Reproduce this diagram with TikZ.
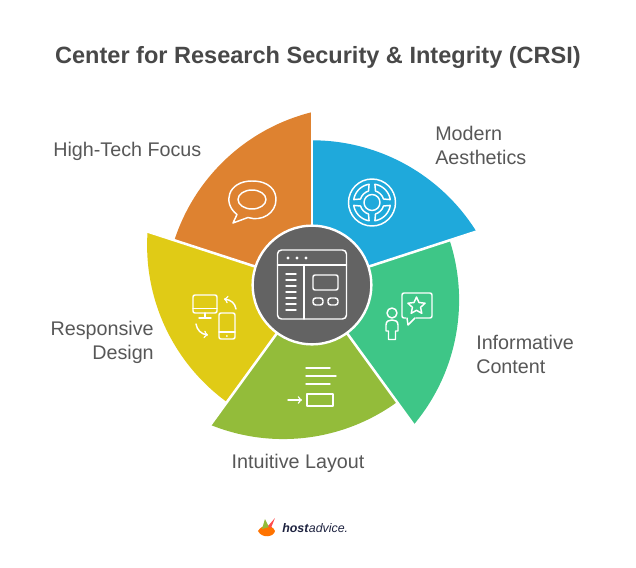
\documentclass[tikz,border=0pt]{standalone}
\usepackage{fontspec}
\usepackage{tikz}
\usetikzlibrary{arrows, positioning, shapes.geometric}
\setmainfont{Liberation Sans}
\definecolor{inkdark}{HTML}{484848}
\definecolor{inktext}{HTML}{575757}
\definecolor{hubgray}{HTML}{636363}
\definecolor{c0}{HTML}{1FA9DB}
\definecolor{c1}{HTML}{3EC687}
\definecolor{c2}{HTML}{93BC3A}
\definecolor{c3}{HTML}{E0CB16}
\definecolor{c4}{HTML}{DE8230}
\definecolor{logonavy}{HTML}{1E2340}
\tikzstyle{hub}=[circle, draw=white, fill=hubgray, line width=1.8pt, minimum size=89pt, inner sep=0pt]
\tikzstyle{icon}=[draw=white, line width=1.1pt, line join=round, line cap=round]
\tikzstyle{topic}=[text=inktext, font=\fontsize{14.8}{18}\selectfont, inner sep=0pt]
\tikzstyle{page}=[shift={(-312,285)}, y=-0.75pt]

\begin{document}
\begin{tikzpicture}[x=0.75pt, y=0.75pt]
        \useasboundingbox (-312,-283) rectangle (324,285);

        % five wedges, turned by 72 degrees
        \foreach \i/\col in {0/c0, 1/c1, 2/c2, 3/c3, 4/c4} {
                \fill[\col, rotate=-72*\i] (0,0) -- (0,144.7)
                        arc[start angle=90, end angle=32.1, radius=193.7] -- cycle;
        }
        \foreach \i in {0,...,4} {
                \draw[white, line width=1.9pt] (0,0) -- (90-72*\i:176);
        }
        \node[hub] (core) at (0,0) {};

        % ring icon
        \begin{scope}[shift={(60,82.5)}]
                \draw[icon] (0,0) circle[radius=8];
                \draw[icon] (0,0) circle[radius=23.5];
                \foreach \a in {45,135,225,315} {
                        \draw[icon] (\a-36:18.5) arc[start angle=\a-36, end angle=\a+36, radius=18.5]
                                -- (\a+28:12) arc[start angle=\a+28, end angle=\a-28, radius=12] -- cycle;
                }
        \end{scope}

        \begin{scope}[page]
                \node[font=\fontsize{17.65}{22}\selectfont\bfseries, text=inkdark, inner sep=0pt] (title) at (318,57.5) {Center for Research Security \& Integrity (CRSI)};

                \node[topic, anchor=west, align=left] (modern) at (435,145.5) {Modern\\Aesthetics};
                \node[topic, anchor=west, align=left] (informative) at (476,354.5) {Informative\\Content};
                \node[topic] (intuitive) at (298,463.5) {Intuitive Layout};
                \node[topic, anchor=east, align=right] (responsive) at (154,342.5) {Responsive\\Design};
                \node[topic, anchor=west] (hightech) at (53,151.5) {High-Tech Focus};

                % window icon
                \draw[icon, rounded corners=3] (277.5,250) rectangle (346.5,319);
                \draw[icon] (277.5,265) -- (346.5,265);
                \draw[icon] (304,265) -- (304,319);
                \foreach \x in {288,297,306} {
                        \fill[white] (\x,258) circle[radius=1.6];
                }
                \foreach \y in {274,280,286,292,298,304,310} {
                        \draw[icon] (286,\y) -- (296,\y);
                }
                \draw[icon, rounded corners=1.5] (313,275) rectangle (338,290);
                \draw[icon, rounded corners=2] (313,298) rectangle (323,305);
                \draw[icon, rounded corners=2] (328,298) rectangle (338,305);

                % speech bubble icon
                \draw[icon] (252,199.5) ellipse[x radius=14, y radius=9.5];
                \draw[icon] (237,214.5) .. controls (222,203) and (228,181) .. (252,181)
                        .. controls (270,181) and (276,191) .. (276,199.5)
                        .. controls (276,213) and (262,222) .. (248,217.5) -- (233,223) -- cycle;

                % person with star icon
                \draw[icon, rounded corners=1.5] (402,293) rectangle (432,318);
                \fill[c1] (406,317) rectangle (416,319.5);
                \draw[icon] (407,318) -- (408,325) -- (415,318);
                \node[star, star points=5, star point ratio=2.1, icon, minimum size=13.5pt, inner sep=0pt] (fav) at (416.5,306) {};
                \draw[icon] (392,313) circle[radius=5];
                \draw[icon] (386,331) -- (386,325) .. controls (386,321) and (389,320) .. (392,320)
                        .. controls (395,320) and (398,321) .. (398,325) -- (398,331) -- (395.5,331)
                        -- (395.5,339.5) -- (388.5,339.5) -- (388.5,331) -- cycle;

                % layout icon
                \draw[icon] (306,368) -- (330,368);
                \draw[icon] (306,376) -- (336,376);
                \draw[icon] (306,384) -- (330,384);
                \draw[icon] (307,394) rectangle (333,406);
                \draw[icon, ->] (288,400) -- (302,400);

                % devices icon
                \draw[icon, rounded corners=1.5] (193,295) rectangle (217,313);
                \draw[icon] (193,308.5) -- (217,308.5);
                \draw[icon] (205,313) -- (205,318);
                \draw[icon] (199,318) -- (211,318);
                \draw[icon, rounded corners=1.5] (219,313) rectangle (235,339);
                \draw[icon] (219,332) -- (235,332);
                \fill[white] (227,336) circle[radius=1];
                \draw[icon, ->] (236,309) .. controls (235,303) and (231,300) .. (224,299);
                \draw[icon, ->] (196,324) .. controls (197,330) and (201,334) .. (208,335);

                % logo
                \fill[orange!90!red] (258,531) .. controls (262,524) and (272,524) .. (275,531)
                        .. controls (274,537) and (262,539) .. (258,531);
                \fill[c2] (262,529) -- (265,519) -- (269,527) -- cycle;
                \fill[red!70!white] (268,526) -- (275,518) -- (271,528) -- cycle;
                \node[font=\fontsize{9.3}{12}\selectfont, text=logonavy, inner sep=0pt, anchor=west] (logo) at (282,528) {\textbf{\textit{host}}\textit{advice.}};
        \end{scope}
\end{tikzpicture}
\end{document}
